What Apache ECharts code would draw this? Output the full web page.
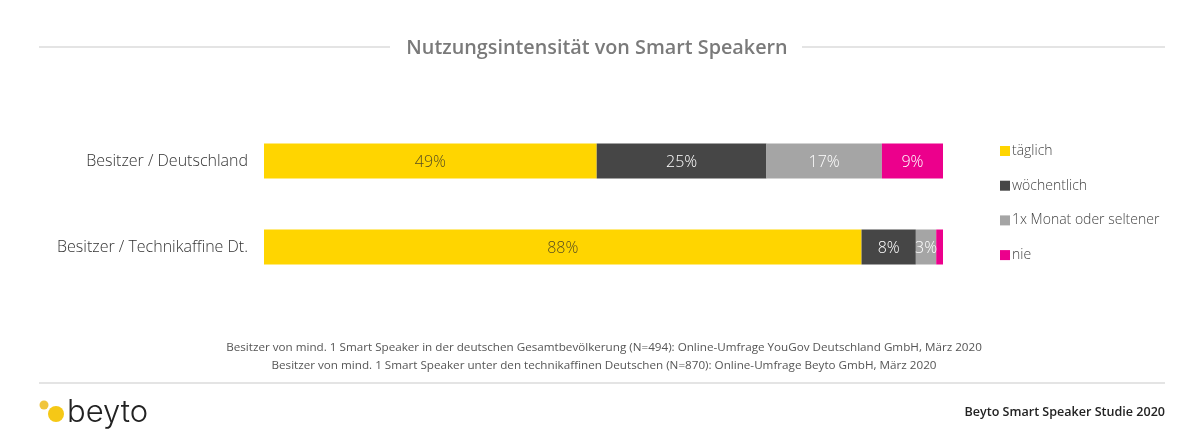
<!DOCTYPE html>
<html>
<head>
<meta charset="utf-8">
<style>html,body{margin:0;padding:0;background:#fff}#c{width:1200px;height:444px}</style>
<script src="https://cdn.jsdelivr.net/npm/echarts@6/dist/echarts.min.js"></script>
</head>
<body>
<div id="c"></div>
<script>
const categories = ['Besitzer / Deutschland', 'Besitzer / Technikaffine Dt.'];
const taeglich = [49, 88];
const woechentlich = [25, 8];
const monatlich = [17, 3];
const nie = [9, 1];
const seriesNames = ['täglich', 'wöchentlich', '1x Monat oder seltener', 'nie'];
const FONT = '"Open Sans", sans-serif';
const chart = echarts.init(document.getElementById('c'), null, {renderer: 'canvas'});
function s(name, data, color, labelColor) {
  return {
    name, type: 'bar', stack: 'a', data, barWidth: 35,
    itemStyle: {color},
    label: {
      show: true, position: 'inside', offset: [0, 1], color: labelColor,
      fontFamily: FONT, fontSize: 16, fontWeight: 300,
      formatter: p => p.value >= 3 ? p.value + '%' : ''
    }
  };
}
const line = (x1, x2, y) => ({type: 'line', shape: {x1, y1: y, x2, y2: y}, style: {stroke: '#e4e4e4', lineWidth: 2}});
chart.setOption({
  animation: false,
  backgroundColor: '#fff',
  title: {
    text: 'Nutzungsintensität von Smart Speakern',
    left: 592, top: 33, textAlign: 'center',
    textStyle: {fontFamily: FONT, fontSize: 19.8, fontWeight: 600, color: '#7a7a7a'}
  },
  legend: {
    orient: 'vertical', left: 995, top: 139, itemWidth: 10, itemHeight: 10, itemGap: 20.7,
    icon: 'rect', itemStyle: {borderWidth: 0},
    textStyle: {fontFamily: FONT, fontSize: 14, fontWeight: 300, color: '#444', padding: [0, 0, 0, -3]},
    data: seriesNames
  },
  grid: {left: 264, width: 679, top: 118, height: 172},
  xAxis: {type: 'value', min: 0, max: 100, show: false},
  yAxis: {
    type: 'category', inverse: true, data: categories,
    axisLine: {show: false}, axisTick: {show: false},
    axisLabel: {fontFamily: FONT, fontSize: 16, fontWeight: 300, color: '#333', margin: 16, padding: [3, 0, 0, 0]}
  },
  series: [
    s(seriesNames[0], taeglich, '#ffd500', '#5a5020'),
    s(seriesNames[1], woechentlich, '#464646', '#ffffff'),
    s(seriesNames[2], monatlich, '#a5a5a5', '#ffffff'),
    s(seriesNames[3], nie, '#ec008c', '#ffffff')
  ],
  graphic: [
    line(39, 390, 47), line(802, 1165, 47), line(39, 1165, 383),
    {type: 'text', x: 604, y: 348, style: {text: 'Besitzer von mind. 1 Smart Speaker in der deutschen Gesamtbevölkerung (N=494): Online-Umfrage YouGov Deutschland GmbH, März 2020', font: '11.66px "Open Sans", sans-serif', fill: '#555', align: 'center', verticalAlign: 'middle'}},
    {type: 'text', x: 604, y: 366, style: {text: 'Besitzer von mind. 1 Smart Speaker unter den technikaffinen Deutschen (N=870): Online-Umfrage Beyto GmbH, März 2020', font: '11.66px "Open Sans", sans-serif', fill: '#555', align: 'center', verticalAlign: 'middle'}},
    {type: 'circle', shape: {cx: 44, cy: 405, r: 4.5}, style: {fill: '#f0c53c'}},
    {type: 'circle', shape: {cx: 56, cy: 414, r: 8}, style: {fill: '#f5c816'}},
    {type: 'text', x: 67, y: 413, style: {text: 'beyto', font: '300 31px Inter, sans-serif', fill: '#222', verticalAlign: 'middle'}},
    {type: 'text', x: 1165, y: 412, style: {text: 'Beyto Smart Speaker Studie 2020', font: '600 12.55px "Open Sans", sans-serif', fill: '#222', align: 'right', verticalAlign: 'middle'}}
  ]
});
</script>
</body>
</html>
